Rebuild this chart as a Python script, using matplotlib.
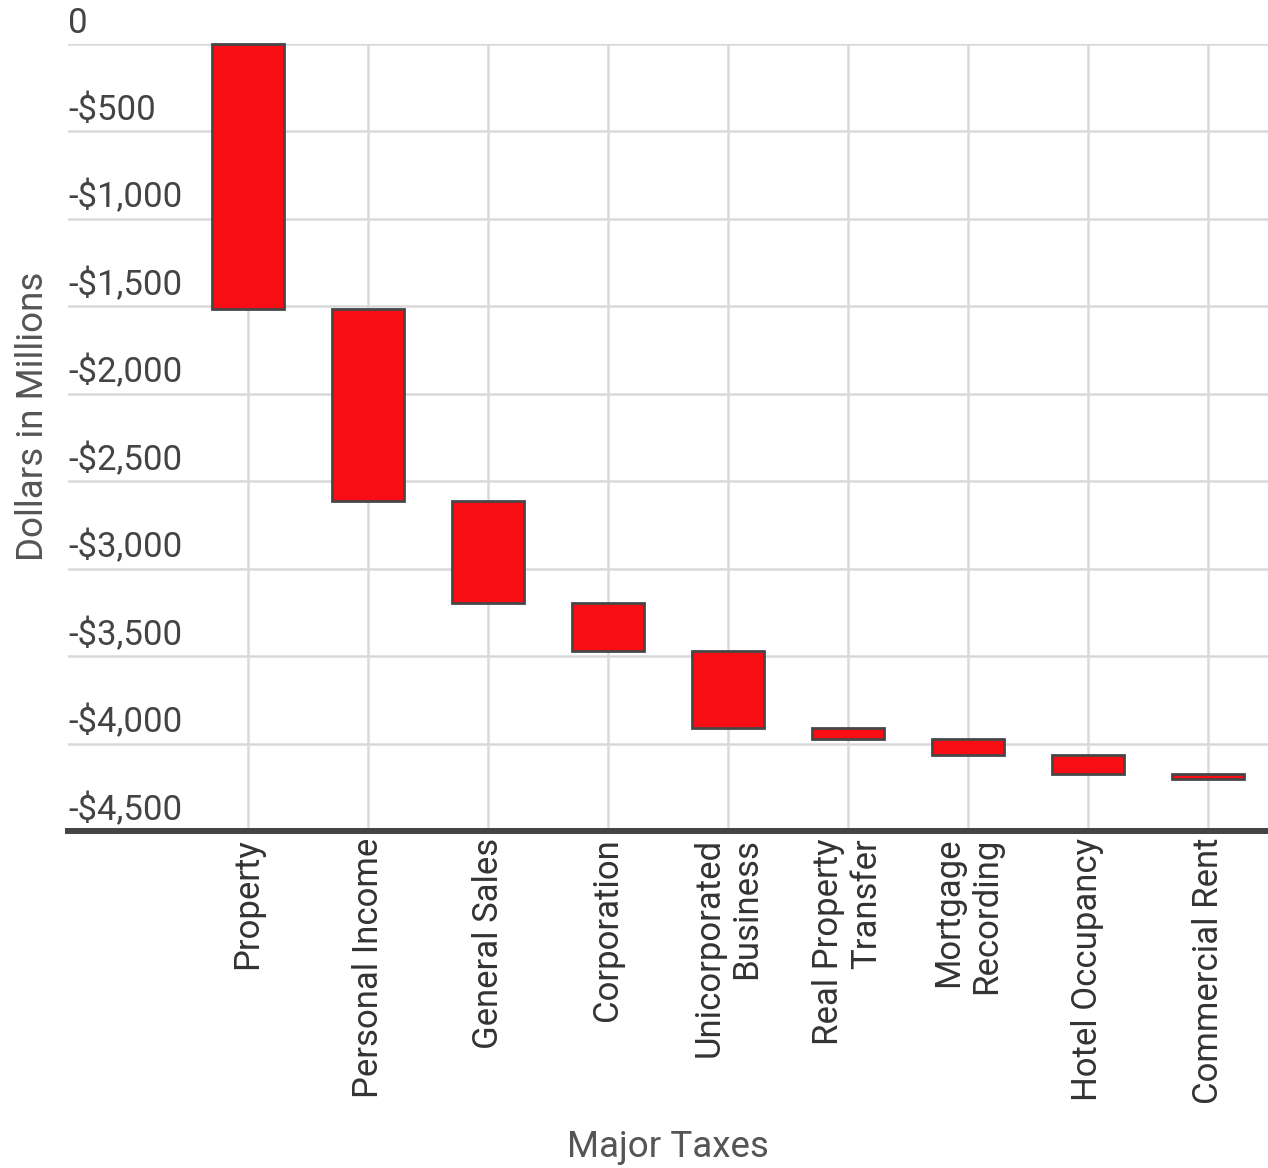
import numpy as np
import matplotlib
matplotlib.use("Agg")
import matplotlib.pyplot as plt

plt.rcParams['font.family'] = ['Roboto', 'DejaVu Sans']

# Major tax categories and their change, dollars in millions
taxes = ['Property', 'Personal Income', 'General Sales', 'Corporation',
         'Unicorporated\nBusiness', 'Real Property\nTransfer',
         'Mortgage\nRecording', 'Hotel Occupancy', 'Commercial Rent']
change = [-1518, -1097, -583, -273, -443, -60, -93, -105, -31]

yticks = [0, -500, -1000, -1500, -2000, -2500, -3000, -3500, -4000, -4500]
ytick_labels = ['0', '-$500', '-$1,000', '-$1,500', '-$2,000', '-$2,500',
                '-$3,000', '-$3,500', '-$4,000', '-$4,500']

W, H = 1268, 1168
fig = plt.figure(figsize=(W / 100, H / 100), dpi=100)
ax = fig.add_axes([68 / W, (H - 831) / H, 1200 / W, (831 - 43.7) / H])

x = np.arange(len(taxes))
start = np.concatenate([[0], np.cumsum(change)[:-1]])

ax.bar(x, change, bottom=start, width=0.6, color='#f90d14',
       edgecolor='#474747', linewidth=2.0, zorder=3, clip_on=False)

ax.set_xlim(-1.5, 8.5)
ax.set_ylim(-4500, 0)

ax.set_yticks(yticks)
ax.set_yticklabels([])
ax.tick_params(axis='y', length=0)
for v, lab in zip(yticks, ytick_labels):
    ax.annotate(lab, xy=(0, v), xycoords=('axes fraction', 'data'),
                xytext=(0, 11), textcoords='offset pixels',
                ha='left', va='baseline', fontsize=25, color='#444444')

ax.set_xticks(x)
ax.set_xticklabels(taxes, rotation=90, ha='center', va='top',
                   multialignment='right', fontsize=25, color='#333333')
ax.tick_params(axis='x', length=0, pad=5)

ax.grid(True, color='#d9d9d9', linewidth=1.8, zorder=0)
ax.set_axisbelow(True)

for s in ['top', 'right', 'left']:
    ax.spines[s].set_visible(False)
ax.spines['bottom'].set_color('#444444')
ax.spines['bottom'].set_linewidth(4.3)
ax.spines['bottom'].set_zorder(4)

fig.text(668 / W, 1 - 1147 / H, 'Major Taxes', ha='center', va='center',
         fontsize=26.5, color='#555555')
fig.text(33 / W, 1 - 416 / H, 'Dollars in Millions', ha='center', va='center',
         rotation=90, fontsize=26.5, color='#555555')

fig.savefig('out.png', dpi=100)
